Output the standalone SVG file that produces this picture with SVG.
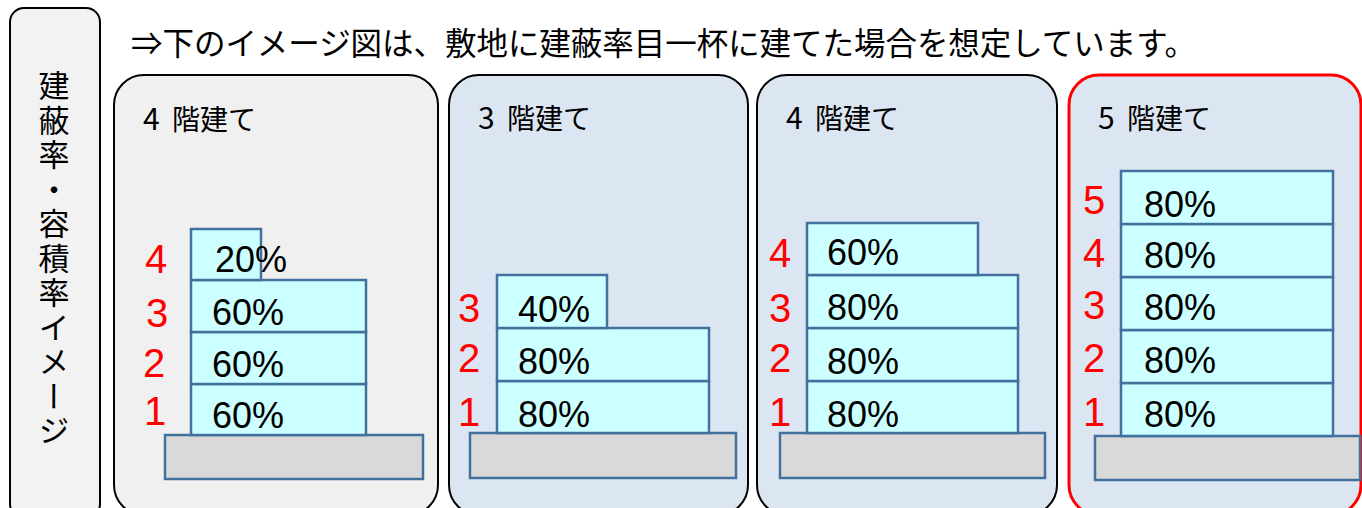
<svg xmlns="http://www.w3.org/2000/svg" width="1362" height="508" viewBox="0 0 1362 508">
<style>
.jp{font-family:"Noto Sans CJK JP","Noto Sans",sans-serif;fill:#000}
.panel{stroke:#000;stroke-width:2}
.blue{fill:#DCE6F2}
.floor{fill:#CCFFFF;stroke:#41719C;stroke-width:2.5}
.ground{fill:#D9D9D9;stroke:#41719C;stroke-width:2.5}
.pct{font-family:"Liberation Sans",Arial,sans-serif;font-size:36px;fill:#000}
.num{font-family:"Liberation Sans",Arial,sans-serif;font-size:40px;fill:#FF0000;text-anchor:middle}
.hdr{font-family:"Noto Sans CJK JP","Noto Sans",sans-serif;font-size:28px;fill:#000}
.hd{font-size:30px}
</style>
<rect width="1362" height="508" fill="#FFFFFF"/>

<g id="side-label">
<rect x="10" y="8" width="90" height="510" rx="14" fill="#F2F2F2" class="panel"/>
<text class="jp" x="54" y="70" font-size="31" writing-mode="vertical-rl" letter-spacing="3.5">建蔽率・容積率イメージ</text>
</g>

<g id="title">
<text class="jp" x="131" y="55" font-size="31.5" textLength="1065" lengthAdjust="spacing">⇒下のイメージ図は、敷地に建蔽率目一杯に建てた場合を想定しています。</text>
</g>

<g id="panel1">
<rect x="114" y="75" width="324" height="440" rx="30" fill="#F0F0F0" class="panel"/>
<text class="hdr" x="143" y="130"><tspan class="hd">4</tspan> <tspan x="172">階建て</tspan></text>
<rect class="ground" x="165" y="435" width="258" height="44"/>
<rect class="floor" x="191" y="384" width="175" height="51"/>
<rect class="floor" x="191" y="332" width="175" height="52"/>
<rect class="floor" x="191" y="280" width="175" height="52"/>
<rect class="floor" x="191" y="229" width="70" height="51"/>
<text class="pct" x="215" y="272">20%</text>
<text class="pct" x="212" y="325">60%</text>
<text class="pct" x="212" y="377">60%</text>
<text class="pct" x="212" y="428">60%</text>
<text class="num" x="156" y="273">4</text>
<text class="num" x="157" y="327">3</text>
<text class="num" x="154" y="377">2</text>
<text class="num" x="155" y="425">1</text>
</g>

<g id="panel2">
<rect x="449" y="75" width="299" height="440" rx="30" class="panel blue"/>
<text class="hdr" x="478" y="129"><tspan class="hd">3</tspan> <tspan x="507">階建て</tspan></text>
<rect class="ground" x="470" y="433" width="266" height="45"/>
<rect class="floor" x="497" y="381" width="212" height="52"/>
<rect class="floor" x="497" y="328" width="212" height="53"/>
<rect class="floor" x="497" y="275" width="110" height="53"/>
<text class="pct" x="518" y="322">40%</text>
<text class="pct" x="518" y="374">80%</text>
<text class="pct" x="518" y="427">80%</text>
<text class="num" x="469" y="322">3</text>
<text class="num" x="469" y="372">2</text>
<text class="num" x="469" y="426">1</text>
</g>

<g id="panel3">
<rect x="757" y="75" width="300" height="440" rx="30" class="panel blue"/>
<text class="hdr" x="786" y="129"><tspan class="hd">4</tspan> <tspan x="815">階建て</tspan></text>
<rect class="ground" x="780" y="433" width="265" height="45"/>
<rect class="floor" x="807" y="381" width="211" height="52"/>
<rect class="floor" x="807" y="328" width="211" height="53"/>
<rect class="floor" x="807" y="275" width="211" height="53"/>
<rect class="floor" x="807" y="223" width="171" height="52"/>
<text class="pct" x="827" y="265">60%</text>
<text class="pct" x="827" y="320">80%</text>
<text class="pct" x="827" y="374">80%</text>
<text class="pct" x="827" y="427">80%</text>
<text class="num" x="780" y="267">4</text>
<text class="num" x="780" y="322">3</text>
<text class="num" x="780" y="372">2</text>
<text class="num" x="780" y="426">1</text>
</g>

<g id="panel4">
<rect x="1069" y="75" width="292" height="440" rx="30" class="blue" stroke="#FF0000" stroke-width="3"/>
<text class="hdr" x="1098" y="129"><tspan class="hd">5</tspan> <tspan x="1127">階建て</tspan></text>
<rect class="ground" x="1095" y="436" width="265" height="44"/>
<rect class="floor" x="1121" y="383" width="212" height="53"/>
<rect class="floor" x="1121" y="330" width="212" height="53"/>
<rect class="floor" x="1121" y="277" width="212" height="53"/>
<rect class="floor" x="1121" y="224" width="212" height="53"/>
<rect class="floor" x="1121" y="171" width="212" height="53"/>
<text class="pct" x="1144" y="217">80%</text>
<text class="pct" x="1144" y="268">80%</text>
<text class="pct" x="1144" y="320">80%</text>
<text class="pct" x="1144" y="373">80%</text>
<text class="pct" x="1144" y="427">80%</text>
<text class="num" x="1094" y="214">5</text>
<text class="num" x="1094" y="267">4</text>
<text class="num" x="1094" y="319">3</text>
<text class="num" x="1094" y="372">2</text>
<text class="num" x="1094" y="426">1</text>
</g>
</svg>
